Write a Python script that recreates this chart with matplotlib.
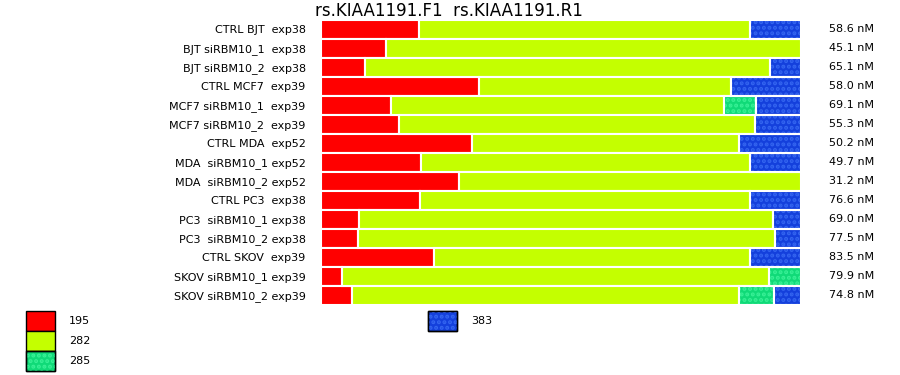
import numpy as np
import matplotlib.pyplot as plt
from matplotlib.patches import Rectangle

plt.rcParams['font.family'] = 'DejaVu Sans'
plt.rcParams['hatch.linewidth'] = 2.0

labels = ['CTRL BJT  exp38', 'BJT siRBM10_1  exp38', 'BJT siRBM10_2  exp38',
          'CTRL MCF7  exp39', 'MCF7 siRBM10_1  exp39', 'MCF7 siRBM10_2  exp39',
          'CTRL MDA  exp52', 'MDA  siRBM10_1 exp52', 'MDA  siRBM10_2 exp52',
          'CTRL PC3  exp38', 'PC3  siRBM10_1 exp38', 'PC3  siRBM10_2 exp38',
          'CTRL SKOV  exp39', 'SKOV siRBM10_1 exp39', 'SKOV siRBM10_2 exp39']
conc = ['58.6 nM', '45.1 nM', '65.1 nM', '58.0 nM', '69.1 nM', '55.3 nM', '50.2 nM',
        '49.7 nM', '31.2 nM', '76.6 nM', '69.0 nM', '77.5 nM', '83.5 nM', '79.9 nM', '74.8 nM']

# percent of each product size per sample
s195 = [20.4, 13.5, 9.2, 32.9, 14.6, 16.3, 31.5, 20.8, 28.8, 20.6, 7.9, 7.7, 23.5, 4.4, 6.5]
s282 = [69.0, 86.5, 84.4, 52.5, 69.4, 74.2, 55.6, 68.5, 71.2, 68.8, 86.3, 86.9, 65.8, 88.9, 80.6]
s285 = [0, 0, 0, 0, 6.7, 0, 0, 0, 0, 0, 0, 0, 0, 6.7, 7.3]
s383 = [10.6, 0, 6.4, 14.6, 9.3, 9.5, 12.9, 10.7, 0, 10.6, 5.8, 5.4, 10.7, 0, 5.6]

series = [('195', s195, '#ff0000', None),
          ('282', s282, '#c4ff00', None),
          ('285', s285, '#10da78', '#38f096'),
          ('383', s383, '#1440dc', '#3465f0')]

fig = plt.figure(figsize=(9, 3.75), dpi=100)
ax = fig.add_axes([321/900, 70.5/375, 480/900, 285/375])

y = np.arange(len(labels))
left = np.zeros(len(labels))
for name, vals, col, hcol in series:
    vals = np.array(vals, dtype=float)
    m = vals > 0
    if hcol is None:
        ax.barh(y[m], vals[m], left=left[m], height=1.0, color=col,
                edgecolor='white', linewidth=1.5)
    else:
        ax.barh(y[m], vals[m], left=left[m], height=1.0, color=col,
                edgecolor=hcol, linewidth=0, hatch='...')
        ax.barh(y[m], vals[m], left=left[m], height=1.0, fill=False,
                edgecolor='white', linewidth=1.5)
    left += vals

ax.set_xlim(0, 100)
ax.set_ylim(len(labels) - 0.5, -0.5)
ax.set_yticks(y)
ax.set_yticklabels(labels, fontsize=8)
ax.tick_params(axis='y', length=0, pad=11)
ax.set_xticks([])
for s in ax.spines.values():
    s.set_visible(False)

for i, c in enumerate(conc):
    ax.text(1.058, i, c, transform=ax.get_yaxis_transform(), fontsize=8,
            ha='left', va='center')

fig.text(449/900, 1 - 11/375, 'rs.KIAA1191.F1  rs.KIAA1191.R1', fontsize=12,
         ha='center', va='center')

# legend
leg_pos = [(26, 311), (26, 331), (26, 351), (428, 311)]
for (px, py), (name, vals, col, hcol) in zip(leg_pos, series):
    box = ((px/900, 1 - (py + 20)/375), 29/900, 20/375)
    fig.add_artist(Rectangle(*box, transform=fig.transFigure,
                             facecolor=col, edgecolor='black', linewidth=1.0))
    if hcol is not None:
        fig.add_artist(Rectangle(*box, transform=fig.transFigure, facecolor='none',
                                 edgecolor=hcol, linewidth=0, hatch='...'))
        fig.add_artist(Rectangle(*box, transform=fig.transFigure, facecolor='none',
                                 edgecolor='black', linewidth=1.0))
    fig.text((px + 43)/900, 1 - (py + 10)/375, name, fontsize=8, ha='left', va='center')

fig.savefig('out.png', dpi=100)
